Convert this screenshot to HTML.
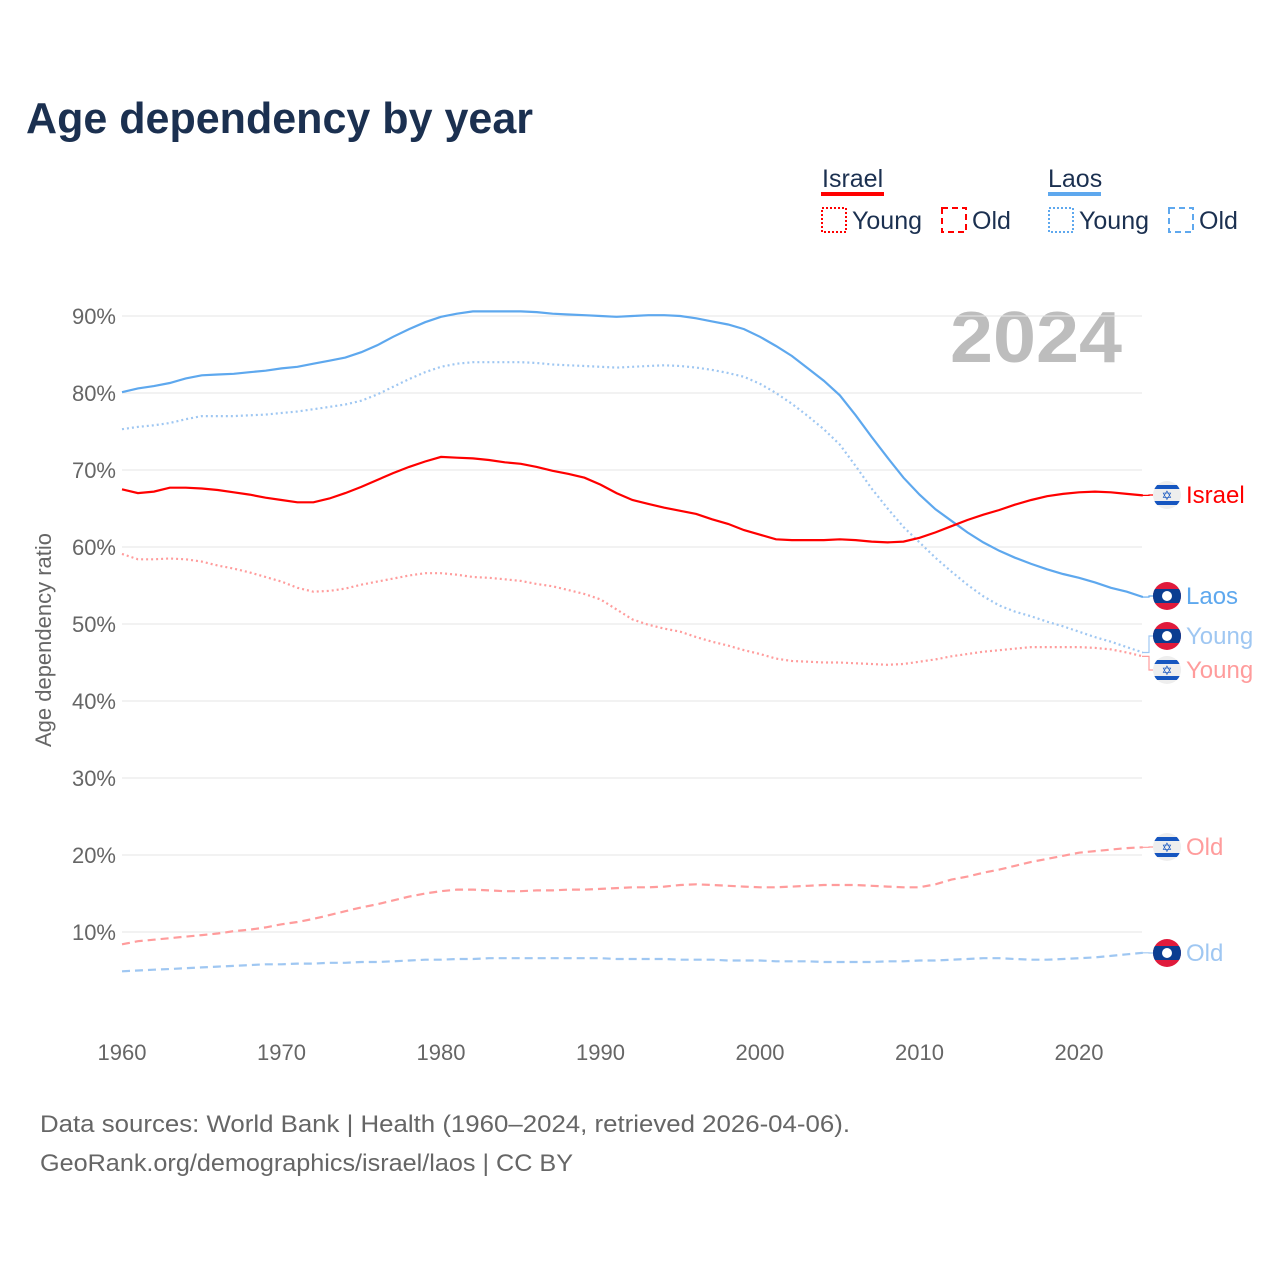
<!DOCTYPE html>
<html><head><meta charset="utf-8">
<style>
body{margin:0;background:#fff;font-family:"Liberation Sans",sans-serif;}
#wrap{position:relative;width:1280px;height:1280px;overflow:hidden;}
</style></head>
<body>
<div id="wrap">
<svg id="chart" width="1280" height="1280" style="position:absolute;left:0;top:0">
<defs id="defs"></defs>
<text x="26" y="133" font-size="44" font-weight="bold" fill="#1b3050" textLength="507" lengthAdjust="spacingAndGlyphs">Age dependency by year</text>
<g font-size="25" fill="#1b3050">
<text x="822" y="187">Israel</text>
<rect x="821" y="192" width="63" height="4" fill="#ff0000"/>
<rect x="822" y="208" width="24" height="24" fill="none" stroke="#ff0000" stroke-width="2" stroke-dasharray="2,2"/>
<text x="852" y="229">Young</text>
<rect x="942" y="208" width="24" height="24" fill="none" stroke="#ff0000" stroke-width="2" stroke-dasharray="6,4"/>
<text x="972" y="229">Old</text>
<text x="1048" y="187">Laos</text>
<rect x="1048" y="192" width="53" height="4" fill="#5ea8ee"/>
<rect x="1049" y="208" width="24" height="24" fill="none" stroke="#5ea8ee" stroke-width="2" stroke-dasharray="2,2"/>
<text x="1079" y="229">Young</text>
<rect x="1169" y="208" width="24" height="24" fill="none" stroke="#5ea8ee" stroke-width="2" stroke-dasharray="6,4"/>
<text x="1199" y="229">Old</text>
</g>
<text x="950" y="362" font-size="72" font-weight="bold" fill="#bdbdbd" textLength="172" lengthAdjust="spacingAndGlyphs">2024</text>
<g id="grid"></g><g id="series"></g><g id="ends"></g>
<text transform="translate(51,640) rotate(-90)" font-size="22" fill="#666" text-anchor="middle">Age dependency ratio</text>
<text x="40" y="1132" font-size="24" fill="#666" textLength="810" lengthAdjust="spacingAndGlyphs">Data sources: World Bank | Health (1960–2024, retrieved 2026-04-06).</text>
<text x="40" y="1171" font-size="24" fill="#666" textLength="533" lengthAdjust="spacingAndGlyphs">GeoRank.org/demographics/israel/laos | CC BY</text>
</svg>
</div>
<script>
const years=[];for(let y=1960;y<=2024;y++)years.push(y);
const yTicks=[10,20,30,40,50,60,70,80,90];
const xTicks=[1960,1970,1980,1990,2000,2010,2020];
const laosTotal=[80.1,80.6,80.9,81.3,81.9,82.3,82.4,82.5,82.7,82.9,83.2,83.4,83.8,84.2,84.6,85.3,86.2,87.3,88.3,89.2,89.9,90.3,90.6,90.6,90.6,90.6,90.5,90.3,90.2,90.1,90.0,89.9,90.0,90.1,90.1,90.0,89.7,89.3,88.9,88.3,87.3,86.1,84.8,83.2,81.6,79.7,77.1,74.3,71.6,69.0,66.8,64.9,63.4,61.9,60.6,59.5,58.6,57.8,57.1,56.5,56.0,55.4,54.7,54.2,53.5];
const laosYoung=[75.3,75.6,75.8,76.1,76.6,77.0,77.0,77.0,77.1,77.2,77.4,77.6,77.9,78.2,78.5,79.0,79.8,80.8,81.8,82.7,83.4,83.8,84.0,84.0,84.0,84.0,83.9,83.7,83.6,83.5,83.4,83.3,83.4,83.5,83.6,83.5,83.3,83.0,82.6,82.1,81.2,80.0,78.6,77.0,75.3,73.3,70.5,67.6,65.0,62.6,60.6,58.6,56.8,55.1,53.6,52.4,51.6,51.0,50.3,49.7,49.0,48.3,47.7,47.0,46.3];
const laosOld=[4.9,5.0,5.1,5.2,5.3,5.4,5.5,5.6,5.7,5.8,5.8,5.9,5.9,6.0,6.0,6.1,6.1,6.2,6.3,6.4,6.4,6.5,6.5,6.6,6.6,6.6,6.6,6.6,6.6,6.6,6.6,6.5,6.5,6.5,6.5,6.4,6.4,6.4,6.3,6.3,6.3,6.2,6.2,6.2,6.1,6.1,6.1,6.1,6.2,6.2,6.3,6.3,6.4,6.5,6.6,6.6,6.5,6.4,6.4,6.5,6.6,6.7,6.9,7.1,7.3];
const israelTotal=[67.5,67.0,67.2,67.7,67.7,67.6,67.4,67.1,66.8,66.4,66.1,65.8,65.8,66.3,67.0,67.8,68.7,69.6,70.4,71.1,71.7,71.6,71.5,71.3,71.0,70.8,70.4,69.9,69.5,69.0,68.1,67.0,66.1,65.6,65.1,64.7,64.3,63.6,63.0,62.2,61.6,61.0,60.9,60.9,60.9,61.0,60.9,60.7,60.6,60.7,61.2,61.9,62.7,63.5,64.2,64.8,65.5,66.1,66.6,66.9,67.1,67.2,67.1,66.9,66.7];
const israelYoung=[59.1,58.4,58.4,58.5,58.4,58.1,57.6,57.2,56.7,56.1,55.5,54.7,54.2,54.3,54.6,55.1,55.5,55.9,56.3,56.6,56.6,56.4,56.1,56.0,55.8,55.6,55.2,54.9,54.4,53.9,53.2,51.9,50.6,49.9,49.4,49.0,48.3,47.7,47.2,46.6,46.1,45.5,45.2,45.1,45.0,45.0,44.9,44.8,44.7,44.8,45.1,45.4,45.8,46.1,46.4,46.6,46.8,47.0,47.0,47.0,47.0,46.9,46.7,46.3,45.8];
const israelOld=[8.4,8.8,9.0,9.2,9.4,9.6,9.8,10.1,10.3,10.6,11.0,11.3,11.7,12.2,12.7,13.2,13.6,14.1,14.6,15.0,15.3,15.5,15.5,15.4,15.3,15.3,15.4,15.4,15.5,15.5,15.6,15.7,15.8,15.8,15.9,16.1,16.2,16.1,16.0,15.9,15.8,15.8,15.9,16.0,16.1,16.1,16.1,16.0,15.9,15.8,15.8,16.2,16.8,17.2,17.7,18.1,18.6,19.1,19.5,19.9,20.3,20.5,20.7,20.9,21.0];

const NS='http://www.w3.org/2000/svg';
const X=yr=>122+(yr-1960)*(1079-122)/60;
const Y=v=>1009-v*7.7;
function mk(tag,attrs,parent){const e=document.createElementNS(NS,tag);for(const k in attrs)e.setAttribute(k,attrs[k]);parent.appendChild(e);return e;}
const grid=document.getElementById('grid');
yTicks.forEach(t=>{
  const l=mk('line',{x1:122,x2:1142,y1:Y(t),y2:Y(t),stroke:'#e6e6e6','stroke-width':1},grid);
  
  
  const tx=mk('text',{x:116,y:Y(t)+8,'font-size':22,fill:'#666','text-anchor':'end'},grid);
  tx.textContent=t+'%';
  
  
});
xTicks.forEach(t=>{
  const tx=mk('text',{x:X(t),y:1060,'font-size':22,fill:'#666','text-anchor':'middle'},grid);
  tx.textContent=t;
  
  
});
const ser=document.getElementById('series');
function line(vals,color,dash,name){
  const d=vals.map((v,i)=>(i?'L':'M')+X(years[i]).toFixed(1)+','+Y(v).toFixed(1)).join('');
  const p=mk('path',{d:d,fill:'none',stroke:color,'stroke-width':2.2,'stroke-dasharray':dash},ser);
  
  
}
const RED='#ff0000',PINK='#ff9c9c',BLUE='#5ea8ee',LBLUE='#9fc7f2';
line(laosOld,LBLUE,'8,5','laos-old-line');
line(israelOld,PINK,'8,5','israel-old-line');
line(israelYoung,PINK,'2,3','israel-young-line');
line(laosYoung,LBLUE,'2,3','laos-young-line');
line(laosTotal,BLUE,'none','laos-total-line');
line(israelTotal,RED,'none','israel-total-line');

const ends=document.getElementById('ends');
const defs=document.getElementById('defs');
let fid=0;
function flag(cy,country,g){
  const cx=1167;
  const id='fc'+(fid++);
  const cp=mk('clipPath',{id:id},defs);
  mk('circle',{cx:cx,cy:cy,r:14},cp);
  const fg=mk('g',{'clip-path':'url(#'+id+')'},g);
  if(country==='laos'){
    mk('rect',{x:cx-14,y:cy-14,width:28,height:28,fill:'#e01b3c'},fg);
    mk('rect',{x:cx-14,y:cy-7,width:28,height:14,fill:'#0a3d91'},fg);
    mk('circle',{cx:cx,cy:cy,r:5,fill:'#fff'},fg);
  }else{
    mk('rect',{x:cx-14,y:cy-14,width:28,height:28,fill:'#eeeeee'},fg);
    mk('rect',{x:cx-14,y:cy-10,width:28,height:4,fill:'#1656c0'},fg);
    mk('rect',{x:cx-14,y:cy+6,width:28,height:4,fill:'#1656c0'},fg);
    const s=mk('text',{x:cx,y:cy+5,'font-size':13,fill:'#1656c0','text-anchor':'middle'},fg);
    s.textContent='✡';
  }
}
const last=years.length-1;
function endLabel(vals,ly,country,label,color,name){
  const g=mk('g',{},ends);
  
  
  const vy=Y(vals[last]);
  mk('path',{d:`M1142,${vy}L1149,${vy}L1149,${ly}L1153,${ly}`,fill:'none',stroke:color,'stroke-width':1.2},g);
  flag(ly,country,g);
  const t=mk('text',{x:1186,y:ly+8,'font-size':24,fill:color},g);
  t.textContent=label;
}
endLabel(israelTotal,495,'israel','Israel',RED,'end-label-israel');
endLabel(laosTotal,596,'laos','Laos',BLUE,'end-label-laos');
endLabel(laosYoung,636,'laos','Young',LBLUE,'end-label-laos-young');
endLabel(israelYoung,670,'israel','Young',PINK,'end-label-israel-young');
endLabel(israelOld,847,'israel','Old',PINK,'end-label-israel-old');
endLabel(laosOld,953,'laos','Old',LBLUE,'end-label-laos-old');
</script>
</body></html>
